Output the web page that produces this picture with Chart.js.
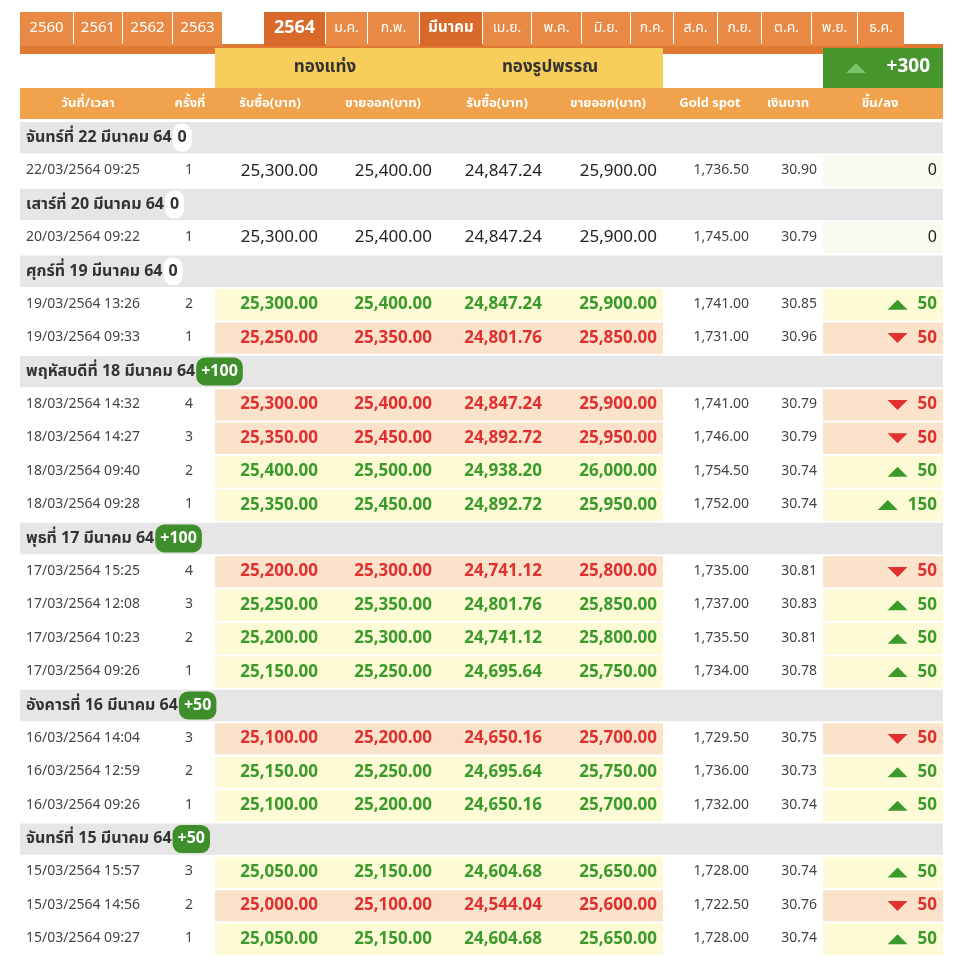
<!DOCTYPE html>
<html>
<head>
<meta charset="utf-8">
<script src="https://cdn.jsdelivr.net/npm/chart.js@4"></script>
<style>
  body { margin: 0; background: #fff; }
  canvas { display: block; }
</style>
</head>
<body>
<canvas id="goldChart" width="960" height="966"></canvas>
<script>
const yearTabs = ['2560', '2561', '2562', '2563'];
const monthTabs = ['2564', 'ม.ค.', 'ก.พ.', 'มีนาคม', 'เม.ย.', 'พ.ค.', 'มิ.ย.', 'ก.ค.', 'ส.ค.', 'ก.ย.', 'ต.ค.', 'พ.ย.', 'ธ.ค.'];
const columnTitles = ['วันที่/เวลา', 'ครั้งที่', 'รับซื้อ(บาท)', 'ขายออก(บาท)', 'รับซื้อ(บาท)', 'ขายออก(บาท)', 'Gold spot', 'เงินบาท', 'ขึ้น/ลง'];
const totalChange = '+300';

const dayTitles = ['จันทร์ที่ 22 มีนาคม 64', 'เสาร์ที่ 20 มีนาคม 64', 'ศุกร์ที่ 19 มีนาคม 64', 'พฤหัสบดีที่ 18 มีนาคม 64', 'พุธที่ 17 มีนาคม 64', 'อังคารที่ 16 มีนาคม 64', 'จันทร์ที่ 15 มีนาคม 64'];
const dayChanges = [0, 0, 0, 100, 100, 50, 50];
const dayTradeCounts = [1, 1, 2, 4, 4, 3, 3];

const times = ['22/03/2564 09:25', '20/03/2564 09:22', '19/03/2564 13:26', '19/03/2564 09:33',
  '18/03/2564 14:32', '18/03/2564 14:27', '18/03/2564 09:40', '18/03/2564 09:28',
  '17/03/2564 15:25', '17/03/2564 12:08', '17/03/2564 10:23', '17/03/2564 09:26',
  '16/03/2564 14:04', '16/03/2564 12:59', '16/03/2564 09:26',
  '15/03/2564 15:57', '15/03/2564 14:56', '15/03/2564 09:27'];
const counts = [1, 1, 2, 1, 4, 3, 2, 1, 4, 3, 2, 1, 3, 2, 1, 3, 2, 1];
const barBuy = [25300, 25300, 25300, 25250, 25300, 25350, 25400, 25350, 25200, 25250, 25200, 25150, 25100, 25150, 25100, 25050, 25000, 25050];
const barSell = [25400, 25400, 25400, 25350, 25400, 25450, 25500, 25450, 25300, 25350, 25300, 25250, 25200, 25250, 25200, 25150, 25100, 25150];
const ornBuy = [24847.24, 24847.24, 24847.24, 24801.76, 24847.24, 24892.72, 24938.20, 24892.72, 24741.12, 24801.76, 24741.12, 24695.64, 24650.16, 24695.64, 24650.16, 24604.68, 24544.04, 24604.68];
const ornSell = [25900, 25900, 25900, 25850, 25900, 25950, 26000, 25950, 25800, 25850, 25800, 25750, 25700, 25750, 25700, 25650, 25600, 25650];
const goldSpot = [1736.50, 1745.00, 1741.00, 1731.00, 1741.00, 1746.00, 1754.50, 1752.00, 1735.00, 1737.00, 1735.50, 1734.00, 1729.50, 1736.00, 1732.00, 1728.00, 1722.50, 1728.00];
const baht = [30.90, 30.79, 30.85, 30.96, 30.79, 30.79, 30.74, 30.74, 30.81, 30.83, 30.81, 30.78, 30.75, 30.73, 30.74, 30.74, 30.76, 30.74];
const changes = [0, 0, 50, -50, -50, -50, 50, 150, -50, 50, 50, 50, -50, 50, 50, 50, -50, 50];

const FONT = '"Noto Sans Thai", "Noto Sans", "DejaVu Sans", sans-serif';
const fmt2 = v => v.toLocaleString('en-US', { minimumFractionDigits: 2, maximumFractionDigits: 2 });

// build the row list: a header row per day followed by its trades
const rows = [];
let t = 0;
dayTitles.forEach((title, d) => {
  rows.push({ type: 'day', day: d });
  for (let k = 0; k < dayTradeCounts[d]; k++) rows.push({ type: 'trade', i: t++ });
});
const labels = rows.map((r, n) => 'r' + n);

const upBg = '#fdfbd6', downBg = '#fbe2cb', flatBg = '#fafaf0';
const rowBg = r => changes[r.i] > 0 ? upBg : changes[r.i] < 0 ? downBg : '#ffffff';

const tablePlugin = {
  id: 'tableText',
  afterDraw(chart) {
    const ctx = chart.ctx;
    const x = chart.scales.x, y = chart.scales.y;
    const px = v => x.getPixelForValue(v);
    ctx.save();

    // tabs
    ctx.fillStyle = '#e07a33';
    ctx.fillRect(px(20), 44, px(943) - px(20), 10);
    const yearX = [[20, 73], [74, 122], [123, 172], [173, 222]];
    ctx.font = '15px ' + FONT;
    ctx.textAlign = 'center'; ctx.textBaseline = 'middle';
    yearTabs.forEach((s, k) => {
      ctx.fillStyle = '#e88a45';
      ctx.fillRect(px(yearX[k][0]), 12, px(yearX[k][1]) - px(yearX[k][0]), 34);
      ctx.fillStyle = '#fff';
      ctx.fillText(s, px((yearX[k][0] + yearX[k][1]) / 2), 29);
    });
    const monthX = [264, 326, 368, 420, 483, 532, 582, 631, 674, 718, 762, 812, 858, 905];
    monthTabs.forEach((s, k) => {
      const a = monthX[k], b = monthX[k + 1] - 1;
      ctx.fillStyle = (k === 0 || k === 3) ? '#d9692a' : '#e88a45';
      ctx.fillRect(px(a), 12, px(b) - px(a), 34);
      ctx.fillStyle = '#fff';
      ctx.font = (k === 0 ? 'bold 18px ' : k === 3 ? 'bold 15px ' : '14px ') + FONT;
      ctx.fillText(s, px((a + b) / 2), 29);
    });

    // group header
    ctx.fillStyle = '#f7cd5c';
    ctx.fillRect(px(215), 48, px(663) - px(215), 40);
    ctx.fillStyle = '#ffffff';
    ctx.fillRect(px(20), 54, px(215) - px(20), 34);
    ctx.fillRect(px(663), 54, px(823) - px(663), 34);
    ctx.fillStyle = '#46962d';
    ctx.fillRect(px(823), 48, px(943) - px(823), 40);
    ctx.fillStyle = '#333';
    ctx.font = 'bold 17px ' + FONT;
    ctx.fillText('ทองแท่ง', px(325), 69);
    ctx.fillText('ทองรูปพรรณ', px(550), 69);
    ctx.fillStyle = '#7cc46a';
    ctx.beginPath(); ctx.moveTo(px(846), 73); ctx.lineTo(px(856), 63); ctx.lineTo(px(866), 73); ctx.fill();
    ctx.fillStyle = '#fff'; ctx.textAlign = 'right';
    ctx.font = 'bold 19px ' + FONT;
    ctx.fillText(totalChange, px(930), 68);

    // column header
    ctx.fillStyle = '#f0a24c';
    ctx.fillRect(px(20), 88, px(943) - px(20), 31);
    ctx.fillStyle = '#fff';
    ctx.font = 'bold 13px ' + FONT;
    ctx.textAlign = 'center';
    const colX = [88, 190, 270, 383, 497, 608, 710, 788, 880];
    columnTitles.forEach((s, k) => ctx.fillText(s, px(colX[k]), 104));

    // rows
    rows.forEach((r, n) => {
      const cy = y.getPixelForValue(n);
      if (r.type === 'day') {
        ctx.textAlign = 'left';
        ctx.font = 'bold 16px ' + FONT;
        ctx.fillStyle = '#333';
        ctx.fillText(dayTitles[r.day], px(26), cy + 1);
        const w = ctx.measureText(dayTitles[r.day]).width;
        const ch = dayChanges[r.day];
        const txt = ch > 0 ? '+' + ch : String(ch);
        ctx.font = 'bold 16px ' + FONT;
        const bw = ctx.measureText(txt).width + 10;
        const bx = px(26) + w + 1;
        ctx.fillStyle = ch > 0 ? '#3e8e2b' : '#ffffff';
        ctx.beginPath(); ctx.roundRect(bx, cy - 14, bw, 28, 9); ctx.fill();
        ctx.fillStyle = ch > 0 ? '#fff' : '#333';
        ctx.fillText(txt, bx + 5, cy + 1);
        return;
      }
      const i = r.i, ch = changes[i];
      ctx.fillStyle = '#444';
      ctx.font = '14px ' + FONT;
      ctx.textAlign = 'left';
      ctx.fillText(times[i], px(26), cy);
      ctx.textAlign = 'center';
      ctx.fillText(String(counts[i]), px(189), cy);
      ctx.textAlign = 'right';
      ctx.fillText(fmt2(goldSpot[i]), px(749), cy);
      ctx.fillText(fmt2(baht[i]), px(817), cy);
      const col = ch > 0 ? '#3a9a2a' : ch < 0 ? '#e03030' : '#222';
      ctx.fillStyle = col;
      ctx.font = (ch === 0 ? '17px ' : 'bold 17px ') + FONT;
      ctx.fillText(fmt2(barBuy[i]), px(318), cy + 1);
      ctx.fillText(fmt2(barSell[i]), px(432), cy + 1);
      ctx.fillText(fmt2(ornBuy[i]), px(542), cy + 1);
      ctx.fillText(fmt2(ornSell[i]), px(657), cy + 1);
      ctx.font = (ch === 0 ? '16px ' : 'bold 17px ') + FONT;
      const chTxt = String(Math.abs(ch));
      ctx.fillText(chTxt, px(937), cy + 1);
      if (ch !== 0) {
        const tx = px(937) - ctx.measureText(chTxt).width - 20;
        ctx.beginPath();
        if (ch > 0) { ctx.moveTo(tx - 10, cy + 5); ctx.lineTo(tx, cy - 5); ctx.lineTo(tx + 10, cy + 5); }
        else { ctx.moveTo(tx - 10, cy - 5); ctx.lineTo(tx, cy + 5); ctx.lineTo(tx + 10, cy - 5); }
        ctx.fill();
      }
    });
    ctx.restore();
  }
};

new Chart(document.getElementById('goldChart').getContext('2d'), {
  type: 'bar',
  data: {
    labels: labels,
    datasets: [
      {
        data: rows.map(r => r.type === 'day' ? [20, 943] : null),
        backgroundColor: '#e6e6e6'
      },
      {
        data: rows.map(r => r.type === 'trade' ? [215, 663] : null),
        backgroundColor: rows.map(r => r.type === 'trade' ? rowBg(r) : '#fff')
      },
      {
        data: rows.map(r => r.type === 'trade' ? [823, 943] : null),
        backgroundColor: rows.map(r => r.type === 'trade' ? (changes[r.i] === 0 ? flatBg : rowBg(r)) : '#fff')
      }
    ]
  },
  options: {
    indexAxis: 'y',
    responsive: false,
    animation: false,
    grouped: false,
    barPercentage: 1,
    categoryPercentage: 0.94,
    layout: { padding: { top: 121, bottom: 10, left: 0, right: 0 } },
    plugins: { legend: { display: false }, tooltip: { enabled: false } },
    scales: {
      x: { display: false, min: 0, max: 960 },
      y: { display: false }
    }
  },
  plugins: [tablePlugin]
});
</script>
</body>
</html>
